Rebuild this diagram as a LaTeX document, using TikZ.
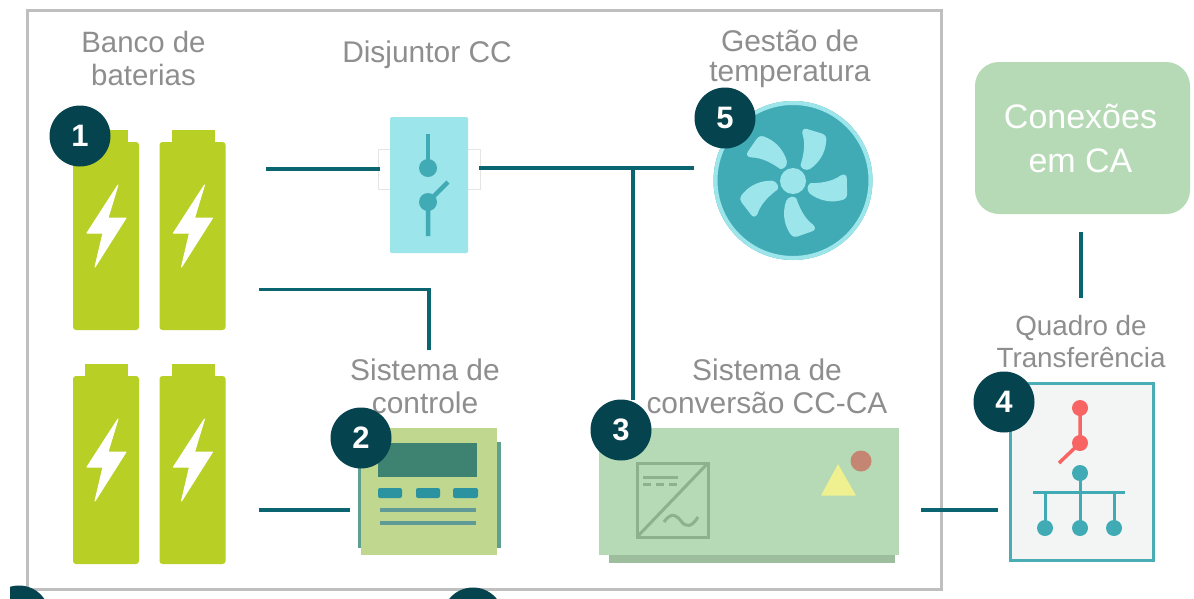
\documentclass[tikz,border=0pt]{standalone}
\usepackage{fontspec}
\setmainfont{Liberation Sans}
\definecolor{framegray}{HTML}{BFBFBF}
\definecolor{wire}{HTML}{0B6570}
\definecolor{labelgray}{HTML}{8E8E8E}
\definecolor{badgeblue}{HTML}{05434F}
\definecolor{battgreen}{HTML}{B8CF25}
\definecolor{paleteal}{HTML}{9BE5EB}
\definecolor{midteal}{HTML}{41ABB5}
\definecolor{softgreen}{HTML}{B5DAB5}
\definecolor{softgreendark}{HTML}{9CBE9C}
\definecolor{invline}{HTML}{8DB08D}
\definecolor{ctrlgreen}{HTML}{C0D78F}
\definecolor{ctrlside}{HTML}{5E9F90}
\definecolor{ctrlscreen}{HTML}{3E8272}
\definecolor{ctrlbtn}{HTML}{2B93A0}
\definecolor{ctrlline}{HTML}{5F9A97}
\definecolor{panelbg}{HTML}{F3F5F5}
\definecolor{panelline}{HTML}{4AACB4}
\definecolor{redswitch}{HTML}{F86464}
\definecolor{invyellow}{HTML}{EFF08F}
\definecolor{invred}{HTML}{C48672}
\tikzset{
  every node/.style={outer sep=0pt},
  wireline/.style={draw=wire,line width=3.4pt},
  lbl/.style={text=labelgray,font=\fontsize{29.9}{33}\selectfont,align=center,inner sep=0pt},
  badge/.style={circle,fill=badgeblue,minimum size=61pt,inner sep=0pt,text=white,font=\fontsize{31}{31}\selectfont\bfseries},
  battbody/.style={fill=battgreen,rounded corners=3pt,minimum width=66pt,minimum height=188pt,inner sep=0pt,anchor=north west},
  bolt/.style={fill=white,draw=white,line width=1pt,line join=round},
  dot/.style={circle,inner sep=0pt,minimum size=#1},
}
\begin{document}
\begin{tikzpicture}[x=1pt,y=-1pt]
\useasboundingbox (0,0) rectangle (1194,598);
\fill[white] (0,0) rectangle (1194,598);
% frame
\node[draw=framegray,line width=3pt,minimum width=914pt,minimum height=579pt,inner sep=0pt,anchor=north west] (frame) at (27,10) {};
% clipped badges at the bottom
\begin{scope}
\clip (10,570) rectangle (1194,598);
\node[badge] (b6) at (19,616) {};
\node[badge] (b7) at (473,618) {};
\end{scope}
% labels
\node[lbl,font=\fontsize{29.4}{33}\selectfont] (l1) at (143.5,58.5) {Banco de\\baterias};
\node[lbl] (l2) at (427,55) {Disjuntor CC};
\node[lbl,font=\fontsize{29.9}{30}\selectfont] (l3) at (790,59) {Gestão de\\temperatura};
\node[lbl] (l4) at (425,386.5) {Sistema de\\controle};
\node[lbl] (l5) at (767,386) {Sistema de\\conversão CC-CA};
\node[lbl,font=\fontsize{27.8}{32}\selectfont] (l6) at (1081,342) {Quadro de\\Transferência};
% batteries
\foreach \n/\x/\y in {batA/73/142,batB/159.5/142,batC/73/376,batD/159.5/376}{
  \fill[battgreen] (\x+12,\y-12) rectangle (\x+55,\y+5);
  \node[battbody] (\n) at (\x,\y) {};
  \draw[bolt] (\x+45,\y+43) -- (\x+14,\y+91) -- (\x+30,\y+91) -- (\x+22,\y+125) -- (\x+53,\y+76) -- (\x+35,\y+76) -- cycle;
}
% breaker
\node[draw=black!10,fill=white,line width=.7pt,minimum width=102pt,minimum height=40pt,inner sep=0pt] (tabs) at (429,169) {};
\node[fill=paleteal,rounded corners=1.5pt,minimum width=78pt,minimum height=136pt,inner sep=0pt] (breaker) at (429,185) {};
\draw[draw=midteal,line width=4.5pt] (428,134) -- (428,168);
\draw[draw=midteal,line width=4.5pt] (428,236) -- (428,202) -- (448,182);
\node[dot=18pt,fill=midteal] (brk1) at (428,168) {};
\node[dot=18pt,fill=midteal] (brk2) at (428,202) {};
% fan
\node[dot=159pt,fill=midteal] (fanouter) at (793,180.5) {};
\fill[paleteal,even odd rule] (793,180.5) circle (79.5) circle (75.5);
\foreach \i in {0,...,4}{
  \fill[paleteal,shift={(793,181)},rotate=-72*\i]
    (7.5,-16) .. controls (10,-24) and (13,-36) .. (9.5,-47)
    .. controls (8.5,-51) and (11,-53) .. (14,-52)
    -- (29,-47.5) .. controls (33,-46) and (34,-43) .. (33,-38)
    .. controls (32,-28) and (26,-18) .. (17,-12)
    .. controls (13,-10) and (8,-12) .. (7.5,-16) -- cycle;
}
\node[dot=26pt,fill=paleteal] (hub) at (793,181) {};
% controller
\fill[ctrlside] (358,442) rectangle (500.5,548);
\node[fill=ctrlgreen,minimum width=136pt,minimum height=127pt,inner sep=0pt,anchor=north west] (ctrl) at (361,428) {};
\fill[ctrlscreen] (378,443) rectangle (477,477);
\fill[ctrlbtn,rounded corners=2pt] (378,488) rectangle (402,498);
\fill[ctrlbtn,rounded corners=2pt] (416,488) rectangle (440,498);
\fill[ctrlbtn,rounded corners=2pt] (453,488) rectangle (478,498);
\draw[ctrlline,line width=4pt] (380,510) -- (476,510);
\draw[ctrlline,line width=4pt] (380,523) -- (476,523);
% inverter
\fill[softgreendark] (609,550) rectangle (895,563);
\node[fill=softgreen,minimum width=300pt,minimum height=127pt,inner sep=0pt,anchor=north west] (inv) at (599,428) {};
\draw[invline,line width=3pt] (637,463) rectangle (708,537);
\draw[invline,line width=3pt] (637,537) -- (708,463);
\draw[invline,line width=3pt] (643,477) -- (678,477);
\draw[invline,line width=3pt,dash pattern=on 8pt off 5pt] (643,484) -- (678,484);
\draw[invline,line width=3pt] (664,522) .. controls (672,510) and (678,517) .. (681,521) .. controls (686,528) and (692,527) .. (698,517);
\fill[invyellow,rounded corners=.5pt] (838,464) -- (821,495.5) -- (856,495.5) -- cycle;
\node[dot=21pt,fill=invred] (lamp) at (861,461) {};
% transfer panel
\node[draw=panelline,fill=panelbg,line width=3pt,minimum width=143pt,minimum height=177pt,inner sep=0pt,anchor=north west] (panel) at (1010,383) {};
\draw[redswitch,line width=3.5pt] (1080,408) -- (1080,443) -- (1059,463);
\node[dot=16pt,fill=redswitch] (rs1) at (1080,408) {};
\node[dot=16pt,fill=redswitch] (rs2) at (1080,443) {};
\draw[midteal,line width=3pt] (1033,492) -- (1125,492);
\draw[midteal,line width=3pt] (1080,473) -- (1080,528);
\draw[midteal,line width=3pt] (1045,492) -- (1045,528);
\draw[midteal,line width=3pt] (1114,492) -- (1114,528);
\node[dot=16pt,fill=midteal] (ts) at (1080,473) {};
\node[dot=16pt,fill=midteal] (t1) at (1045,528) {};
\node[dot=16pt,fill=midteal] (t2) at (1080,528) {};
\node[dot=16pt,fill=midteal] (t3) at (1114,528) {};
% AC box
\node[fill=softgreen,rounded corners=24pt,minimum width=215pt,minimum height=152pt,inner sep=0pt] (ac) at (1082.5,138) {};
\node[text=white,align=center,inner sep=0pt,font=\fontsize{34}{44}\selectfont] (actext) at (1080.5,138) {Conexões\\em CA};
% connectors
\coordinate (w1a) at (266,169);
\coordinate (w1b) at (380,169);
\coordinate (w2a) at (479,168);
\coordinate (w2b) at (694,168);
\coordinate (w2c) at (633,168);
\coordinate (w2d) at (633,400);
\coordinate (w3a) at (259,289.5);
\coordinate (w3b) at (429,350);
\coordinate (w4a) at (259,510);
\coordinate (w4b) at (350,510);
\coordinate (w5a) at (921,510);
\coordinate (w5b) at (998,510);
\coordinate (w6a) at (1081,232);
\coordinate (w6b) at (1081,298);
\draw[wireline] (w1a) -- (w1b);
\draw[wireline] (w2a) -- (w2b);
\draw[wireline] (w2c) -- (w2d);
\draw[wireline] (w3a) -| (w3b);
\draw[wireline] (w4a) -- (w4b);
\draw[wireline] (w5a) -- (w5b);
\draw[wireline] (w6a) -- (w6b);
% badges
\node[badge] (b1) at (80,136) {\raisebox{-2pt}{1}};
\node[badge] (b2) at (361,438) {\raisebox{-2pt}{2}};
\node[badge] (b3) at (621,430) {\raisebox{-1pt}{3}};
\node[badge] (b4) at (1004,402) {\raisebox{-3pt}{4}};
\node[badge] (b5) at (725,118) {\raisebox{-2pt}{5}};
\end{tikzpicture}
\end{document}
